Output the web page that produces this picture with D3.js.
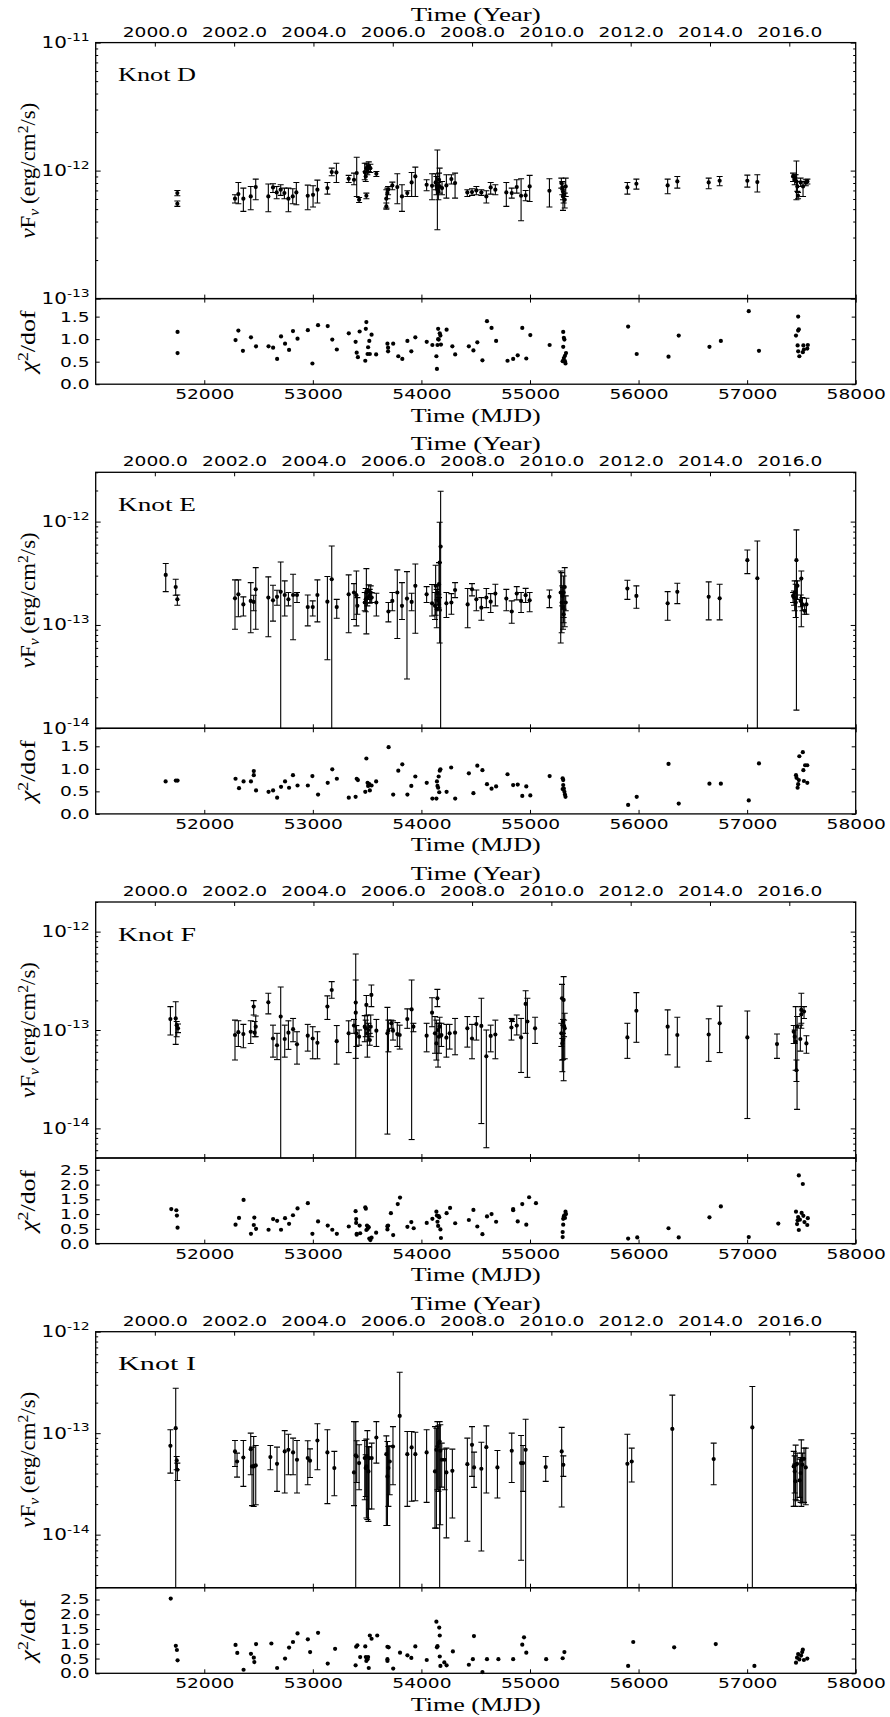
<!DOCTYPE html>
<html><head><meta charset="utf-8">
<script src="https://cdn.jsdelivr.net/npm/d3@7"></script>
<style>body{margin:0;background:#fff}svg{display:block}</style>
</head><body>
<svg id="c" width="890" height="1717"></svg>
<script>
// ---------------- DATA ----------------
const mjdDomain = [51000, 58000];
const mjdTicks = [52000, 53000, 54000, 55000, 56000, 57000, 58000];
const yearTicks = [2000, 2002, 2004, 2006, 2008, 2010, 2012, 2014, 2016];
const knotNames = ["Knot D", "Knot E", "Knot F", "Knot I"];

// Knot D (flux in units of 1e-13 erg/cm2/s)
const D_unit = 1e-13;
const D_yDomain = [1e-13, 1e-11];
const D_mjd = [51752,51752,52283,52314,52360,52428,52474,52590,52633,52667,52704,52738,52775,52815,52848,52953,53002,53042,53134,53174,53217,53330,53379,53404,53426,53478,53493,53502,53515,53530,53493,53487,53585,53677,53687,53693,53677,53732,53778,53821,53870,53910,53944,54048,54098,54131,54138,54147,54156,54162,54168,54190,54230,54276,54310,54423,54466,54506,54552,54598,54638,54681,54782,54832,54878,54918,54960,54997,55179,55289,55298,55304,55310,55320,55329,55304,55897,55980,56268,56357,56646,56747,57002,57094,57423,57438,57454,57463,57469,57447,57493,57515,57540,57555];
const D_flux = [6.67,5.51,6.03,6.55,6.03,6.28,7.43,6.28,7.39,6.75,7.09,6.67,6.03,6.28,6.75,6.36,6.47,7.09,7.30,9.73,9.67,8.63,8.48,9.56,5.92,9.73,10.45,10.15,10.8,10.45,6.36,9.0,9.45,6.03,6.67,7.09,5.25,7.66,7.43,6.28,6.67,8.08,9.0,7.75,7.61,8.08,7.61,7.09,6.88,8.48,7.52,7.30,7.66,8.58,7.99,6.75,6.80,7.0,6.75,6.28,7.39,7.09,6.75,6.67,7.43,6.36,6.40,7.52,6.96,7.99,7.30,6.88,6.47,5.92,7.52,6.28,7.39,7.89,7.66,8.23,8.08,8.33,8.33,8.13,9.0,8.48,8.23,7.52,6.36,8.74,8.08,7.52,8.08,8.23];
const D_lo = [6.36,5.25,5.58,5.51,4.80,4.95,5.92,4.77,6.75,6.03,6.40,6.03,4.77,5.51,5.41,4.95,5.19,5.58,6.55,9.11,8.08,8.08,7.75,6.28,5.64,8.48,9.56,9.28,9.85,9.67,6.03,8.23,9.0,5.10,6.03,6.47,5.0,7.09,5.51,4.80,6.28,6.28,6.28,6.96,5.92,7.09,6.47,3.45,5.92,7.52,6.67,6.47,6.10,7.85,6.10,6.28,6.40,6.47,6.40,5.58,6.55,6.47,5.25,6.10,6.67,4.06,5.81,5.74,5.19,7.30,6.47,5.92,5.58,5.10,6.28,4.89,6.55,7.17,6.59,7.30,7.21,7.61,7.43,6.80,8.23,7.75,5.92,6.88,6.03,8.23,7.52,6.28,7.61,7.85];
const D_hi = [7.0,5.78,6.47,8.08,7.30,7.52,8.58,7.85,7.89,7.52,7.75,7.30,7.30,7.21,8.08,7.70,7.61,8.43,8.08,10.45,11.4,9.17,9.56,12.7,6.17,11.4,11.4,11.1,11.7,11.2,6.67,9.85,9.85,7.09,7.30,7.52,5.58,8.13,9.45,7.75,6.96,9.67,10.65,8.48,9.45,9.45,9.0,14.5,8.08,9.56,10.45,8.23,9.28,9.28,9.56,7.09,7.21,7.52,7.09,6.96,8.08,7.75,8.08,7.30,8.48,8.63,7.0,9.17,8.63,8.74,8.23,7.99,7.52,6.67,8.74,7.09,8.08,8.58,8.58,9.0,8.74,9.0,9.22,9.28,9.56,9.28,11.9,8.23,6.75,9.28,8.74,8.23,8.48,8.58];
const D_chiMax = 1.9;
const D_chiTicks = [0, 0.5, 1.0, 1.5];
const D_chiMjd = [51754,51754,52288,52314,52356,52430,52477,52592,52634,52671,52707,52744,52781,52817,52859,52954,52996,53048,53137,53179,53221,53331,53394,53404,53415,53431,53483,53488,53493,53504,53509,53520,53525,53541,53583,53687,53693,53693,53740,53787,53824,53871,53907,53944,54049,54101,54138,54143,54148,54154,54154,54159,54169,54175,54180,54232,54285,54311,54437,54479,54515,54562,54604,54646,54688,54793,54845,54887,54929,54966,55003,55181,55301,55306,55312,55317,55306,55312,55322,55332,55327,55322,55904,55983,56276,56370,56653,56758,57015,57109,57450,57465,57470,57476,57470,57481,57470,57513,57518,57523,57554,57559];
const D_chi = [1.16,0.69,0.98,1.19,0.74,1.04,0.84,0.84,0.81,0.56,1.06,0.9,0.76,1.18,1.01,1.2,0.46,1.31,1.29,0.99,0.77,1.13,0.94,0.70,0.60,1.17,0.52,1.23,1.38,0.67,0.82,0.96,0.67,1.1,0.66,0.9,0.81,0.73,0.9,0.62,0.56,0.96,0.73,1.04,0.94,0.87,0.62,0.34,0.87,1.0,1.23,0.99,1.13,1.08,0.88,1.21,0.84,0.66,0.84,0.75,0.93,0.53,1.4,1.25,0.96,0.52,0.56,0.64,1.25,0.57,1.09,0.87,0.51,1.16,1.03,0.99,0.83,0.58,0.63,0.69,0.46,0.51,1.28,0.67,0.61,1.08,0.83,0.96,1.62,0.74,1.08,0.86,1.19,1.22,1.5,0.62,0.73,0.71,0.86,0.77,0.79,0.87];

// Knot E (units of 1e-13)
const E_unit = 1e-13;
const E_yDomain = [1e-14, 3e-12];
const E_mjd = [51645,51737,51752,52283,52314,52360,52428,52455,52474,52590,52633,52670,52704,52741,52775,52818,52854,52953,52999,53042,53134,53174,53220,53330,53379,53401,53410,53478,53487,53493,53502,53515,53524,53533,53542,53585,53696,53732,53778,53821,53867,53910,53944,54048,54098,54125,54131,54141,54147,54156,54162,54168,54177,54162,54230,54276,54310,54426,54466,54506,54552,54598,54638,54681,54782,54832,54878,54918,54960,54997,55179,55283,55292,55298,55304,55310,55320,55329,55310,55897,55980,56268,56357,56646,56747,57002,57094,57423,57432,57438,57447,57454,57463,57493,57499,57509,57530,57546];
const E_flux = [3.05,2.33,1.77,1.81,1.98,1.58,1.71,1.67,2.21,1.84,1.73,1.87,2.09,1.95,1.77,1.95,1.95,1.49,1.49,1.95,1.68,2.77,1.49,1.98,2.06,1.94,1.53,1.65,1.77,2.06,1.84,2.13,1.91,2.06,1.84,1.65,1.35,1.71,2.06,1.53,1.80,1.67,2.39,1.98,1.62,1.53,2.39,1.42,2.06,1.71,2.48,4.01,5.73,1.58,1.62,1.65,2.18,1.58,2.21,1.77,1.47,1.84,1.68,2.01,1.80,1.35,2.01,1.71,1.94,1.73,1.87,2.06,1.65,1.91,1.47,2.06,2.33,1.65,1.27,2.25,1.91,1.62,2.09,1.87,1.81,4.23,2.83,1.91,1.84,2.06,1.65,4.23,2.39,1.71,2.81,1.58,1.37,1.58];
const E_lo = [2.10,1.94,1.55,0.91,1.20,1.22,0.84,1.37,0.91,0.77,1.09,1.55,0,1.22,1.53,0.72,1.65,0.98,1.22,1.07,0.46,0,1.16,0.84,1.13,0.98,1.27,1.37,1.34,0.82,1.53,1.77,1.62,1.65,1.65,1.22,1.07,1.37,0.74,1.13,0.30,1.37,0.83,1.65,1.22,1.13,1.24,0.94,1.75,1.47,1.42,0.67,0,1.37,1.18,1.27,1.84,0.94,1.91,1.37,1.11,1.47,1.32,1.53,1.37,1.04,1.75,1.32,1.65,1.34,1.47,0.67,0.84,1.53,0.91,1.05,0.96,1.37,1.18,1.77,1.45,1.11,1.61,1.12,1.12,3.14,0,1.65,1.55,1.37,1.18,0.15,1.77,1.50,0.96,1.37,1.27,1.27];
const E_hi = [3.93,2.77,1.95,2.73,2.73,1.87,2.57,1.94,3.59,2.92,2.42,2.17,4.07,2.67,2.06,3.09,2.06,1.95,1.71,2.73,2.94,5.81,1.77,3.05,2.51,3.33,1.84,2.06,2.25,3.51,2.13,2.44,2.21,2.39,2.06,2.03,1.65,2.06,3.41,2.57,3.28,2.03,3.89,2.35,2.46,2.06,3.78,2.21,2.39,1.98,4.01,9.85,19.7,1.84,2.06,2.01,2.57,2.25,2.51,2.18,1.84,2.25,2.01,2.48,2.21,1.71,2.35,2.06,2.26,2.06,2.18,3.33,3.21,2.39,2.30,2.98,3.59,1.91,1.42,2.71,2.39,2.10,2.53,2.61,2.48,5.32,6.5,2.06,2.13,2.67,2.48,8.31,2.67,1.95,3.33,1.84,1.58,1.81];
const E_chiMax = 1.9;
const E_chiTicks = [0, 0.5, 1.0, 1.5];
const E_chiMjd = [51644,51738,51754,52288,52320,52362,52430,52456,52456,52477,52592,52634,52671,52707,52744,52781,52817,52859,52954,52996,53048,53137,53179,53221,53331,53394,53404,53415,53483,53493,53504,53509,53520,53525,53541,53583,53698,53740,53787,53824,53871,53907,53944,54049,54101,54138,54143,54148,54154,54159,54164,54169,54175,54232,54274,54311,54437,54479,54515,54562,54604,54646,54688,54793,54845,54887,54929,54966,55003,55181,55301,55306,55306,55312,55317,55322,55327,55301,55904,55983,56276,56370,56653,56758,57015,57109,57450,57455,57465,57470,57476,57481,57513,57518,57523,57534,57554,57554];
const E_chi = [0.72,0.74,0.74,0.78,0.57,0.72,0.72,0.86,0.95,0.52,0.49,0.52,0.36,0.6,0.72,0.58,0.86,0.63,0.63,0.84,0.43,0.69,0.99,0.78,0.36,0.38,0.78,0.75,0.49,1.23,0.69,0.62,0.66,0.52,0.63,0.72,1.48,0.43,0.96,1.1,0.43,0.62,0.83,0.69,0.34,0.34,0.72,0.62,0.58,0.83,0.48,0.96,0.99,0.49,1.03,0.34,0.9,0.46,1.07,0.97,0.66,0.56,0.61,0.88,0.64,0.65,0.4,0.61,0.41,0.84,0.79,0.75,0.64,0.56,0.49,0.43,0.38,0.55,0.2,0.38,1.11,0.23,0.67,0.67,0.3,1.12,0.86,0.8,0.58,0.66,0.75,1.28,1.37,0.97,0.73,1.08,0.69,1.08];

// Knot F (units of 1e-13)
const F_unit = 1e-13;
const F_yDomain = [5e-15, 2e-12];
const F_mjd = [51688,51737,51746,51758,52283,52314,52360,52428,52455,52464,52474,52590,52633,52670,52704,52741,52775,52818,52854,52953,52999,53042,53134,53174,53220,53330,53379,53395,53395,53401,53426,53478,53493,53487,53502,53512,53524,53533,53539,53585,53687,53696,53723,53738,53778,53800,53870,53910,53926,54048,54098,54125,54138,54147,54153,54162,54168,54184,54230,54260,54310,54423,54466,54506,54552,54598,54638,54681,54829,54835,54878,54918,54960,54976,55047,55295,55310,55304,55314,55320,55298,55289,55304,55897,55980,56268,56357,56646,56747,57002,57275,57429,57438,57447,57454,57460,57490,57499,57499,57524,57546];
const F_flux = [1.29,1.31,1.12,1.04,0.89,0.95,0.91,0.96,1.73,0.94,1.08,1.91,0.82,0.70,1.37,0.81,0.94,1.02,0.715,0.875,0.82,0.74,1.73,2.55,0.77,0.925,1.11,1.50,1.90,0.925,0.855,1.08,1.80,1.04,0.925,1.0,0.79,1.08,2.27,0.985,0.925,0.985,1.17,0.985,0.91,0.89,1.29,1.62,1.08,0.875,1.50,0.925,0.73,2.10,1.0,0.855,1.08,0.89,0.835,0.925,0.94,1.04,0.82,1.15,1.10,0.54,0.87,0.90,1.06,1.26,1.11,0.84,1.84,1.22,1.04,2.10,2.02,1.22,1.08,1.04,0.73,0.925,0.79,0.84,1.57,1.08,0.89,0.90,1.17,0.84,0.72,0.96,0.855,0.76,0.39,1.08,0.81,1.60,1.44,1.54,0.73];
const F_lo = [0.89,0.715,0.855,0.94,0.495,0.68,0.66,0.73,1.42,0.855,0.855,1.46,0.53,0.50,0,0.53,0.635,0.76,0.45,0.61,0.51,0.51,1.28,2.10,0.45,0.59,0.925,0.515,0,0.68,0.70,0.76,1.40,0.855,0.53,0.79,0.70,0.855,1.73,0.68,0.0875,0.60,1.04,0.79,0.68,0.64,1.04,0.077,0.96,0.60,1.08,0.58,0.495,1.73,0.42,0.58,0.855,0.68,0.53,0.64,0.56,0.67,0.51,0.79,0.112,0.0636,0.60,0.51,0.79,1.22,0.89,0.37,0.925,0.33,0.73,0.495,0.305,1.12,0.855,0.51,0.377,0.68,0.50,0.515,0.75,0.56,0.42,0.48,0.59,0.126,0.515,0.73,0.73,0.39,0.30,0.156,0.61,1.04,1.17,1.31,0.58];
const F_hi = [1.73,1.94,1.22,1.15,1.26,1.24,1.14,1.24,1.99,1.22,1.39,2.36,1.12,0.925,2.74,1.12,1.24,1.31,0.96,1.14,1.08,0.96,2.22,3.10,1.11,1.24,1.28,3.22,5.93,1.11,1.0,1.40,2.24,1.26,1.42,1.17,0.925,1.42,2.87,1.28,1.70,1.26,1.26,1.24,1.19,1.12,1.64,3.22,1.17,1.17,2.13,1.37,1.26,2.59,1.17,1.17,1.35,1.17,1.14,1.14,1.31,1.37,1.14,1.37,2.10,1.0,1.12,1.26,1.31,1.29,1.42,1.31,2.51,2.10,1.35,2.91,3.49,1.28,1.26,1.48,0.82,1.17,0.925,1.17,2.40,1.60,1.35,1.30,1.75,1.56,0.91,1.11,1.0,1.73,0.495,1.37,1.12,2.36,1.73,1.73,0.875];
const F_chiMax = 2.9;
const F_chiTicks = [0, 0.5, 1.0, 1.5, 2.0, 2.5];
const F_chiMjd = [51696,51743,51748,51754,52288,52320,52362,52430,52456,52461,52477,52592,52634,52671,52707,52744,52781,52817,52859,52954,52996,53048,53137,53179,53221,53331,53394,53399,53399,53404,53404,53431,53436,53483,53488,53493,53499,53504,53509,53515,53520,53530,53541,53583,53687,53687,53693,53719,53740,53782,53803,53871,53907,53929,54049,54101,54138,54143,54148,54154,54159,54164,54175,54180,54232,54264,54311,54437,54479,54515,54562,54604,54646,54688,54845,54845,54887,54929,54966,54992,55055,55301,55301,55306,55306,55312,55317,55322,55327,55332,55904,55988,56276,56370,56653,56758,57015,57287,57450,57460,57465,57470,57476,57476,57486,57502,57513,57518,57528,57554,57559];
const F_chi = [1.17,1.13,0.95,0.54,0.64,0.87,1.48,0.33,0.63,0.88,0.5,0.47,0.83,0.77,0.47,0.86,0.67,0.96,1.19,1.37,0.33,0.75,0.61,0.47,0.33,0.58,1.1,0.83,0.7,0.33,0.3,0.61,0.35,1.23,1.18,0.46,0.61,0.5,0.57,0.55,0.17,0.12,0.2,0.37,0.59,0.48,0.61,1.03,0.29,1.34,1.56,0.57,0.73,0.52,0.7,0.84,1.08,0.95,0.74,0.6,0.93,0.89,0.48,0.19,1.03,1.21,0.69,0.8,1.14,0.58,0.32,0.92,1.0,0.74,1.13,1.17,0.75,1.34,0.64,1.57,1.37,0.22,0.39,0.64,0.84,0.92,0.96,0.87,1.08,1.0,0.17,0.21,0.52,0.21,0.89,1.26,0.22,0.68,1.08,0.66,0.79,0.9,2.31,0.46,0.81,1.04,2.02,0.94,0.73,0.63,0.86];

// Knot I (units of 1e-14)
const I_unit = 1e-14;
const I_yDomain = [3e-15, 1e-12];
const I_mjd = [51688,51737,51746,51752,52283,52302,52360,52428,52440,52455,52474,52609,52670,52741,52775,52818,52854,52953,52974,53042,53134,53198,53379,53395,53404,53426,53478,53487,53493,53502,53512,53518,53542,53585,53677,53687,53696,53708,53738,53800,53870,53910,53944,54048,54125,54138,54147,54156,54168,54174,54187,54214,54230,54285,54423,54466,54485,54552,54598,54700,54832,54918,54936,54960,55145,55292,55307,55897,55937,56311,56692,57048,57429,57438,57444,57447,57460,57484,57493,57499,57509,57524,57540];
const I_flux = [7.50,11.2,5.39,4.36,6.61,5.26,5.76,6.96,4.70,4.70,4.81,5.81,4.99,6.61,6.86,6.46,5.47,5.68,5.36,8.47,6.46,4.53,4.10,6.03,5.89,5.07,5.68,4.53,4.70,5.89,4.20,5.68,5.68,9.06,6.21,3.75,4.53,5.26,7.39,14.8,6.21,7.23,6.21,6.46,4.20,6.86,7.39,7.97,8.28,6.71,5.47,5.47,4.10,4.26,4.95,7.68,4.60,4.46,7.28,4.60,6.71,5.07,5.07,6.86,4.63,6.61,4.88,4.99,5.26,11.0,5.55,11.4,4.70,4.20,3.35,4.88,4.99,3.42,4.04,5.47,4.88,5.59,4.60];
const I_lo = [4.04,0,4.36,3.42,4.70,3.69,2.99,3.89,1.93,1.90,1.97,4.36,2.67,2.57,3.89,3.89,2.57,3.10,3.66,4.36,2.02,2.42,1.93,0,3.27,2.77,2.21,2.38,1.46,1.41,1.35,1.79,1.79,5.07,1.23,1.23,1.90,2.47,3.10,0,1.90,2.13,2.16,2.08,1.16,1.16,2.77,2.67,0,1.25,2.94,2.77,0.93,1.46,0.86,3.75,2.92,0.69,2.57,2.30,3.27,0.56,2.67,0,3.35,1.87,3.75,0,3.30,0,3.10,0,1.90,2.57,1.90,2.21,2.16,2.33,2.08,1.90,2.05,2.08,1.97];
const I_hi = [10.8,27.7,5.89,5.07,8.47,6.36,8.47,10.0,7.28,9.27,7.57,7.57,7.28,10.6,9.77,8.93,8.47,8.41,7.01,12.4,10.8,6.61,13.0,13.0,8.41,7.68,8.47,6.12,8.73,10.6,7.39,7.28,7.97,13.0,9.41,8.28,7.39,7.50,11.6,39.8,10.4,10.4,10.2,10.8,11.6,11.2,13.0,11.8,13.0,12.1,7.97,6.96,7.12,6.96,8.93,11.6,6.51,8.15,11.8,6.76,10.0,9.48,7.57,13.7,5.89,11.4,5.98,9.77,7.12,23.7,7.97,28.8,6.61,5.98,4.95,7.62,6.36,5.55,5.76,8.59,6.36,7.12,7.12];
const I_chiMax = 2.9;
const I_chiTicks = [0, 0.5, 1.0, 1.5, 2.0, 2.5];
const I_chiMjd = [51691,51738,51748,51754,52288,52304,52362,52430,52456,52461,52477,52618,52671,52744,52781,52817,52859,52954,52975,53048,53137,53205,53394,53399,53410,53436,53483,53488,53493,53504,53509,53515,53525,53541,53593,53687,53698,53687,53687,53740,53803,53871,53907,53944,54049,54138,54148,54143,54164,54169,54169,54175,54211,54232,54290,54437,54474,54484,54562,54604,54709,54845,54929,54945,54966,55149,55301,55317,55904,55951,56328,56711,57067,57450,57460,57470,57481,57497,57507,57513,57523,57554];
const I_chi = [2.53,0.93,0.79,0.44,0.96,0.69,0.12,0.66,0.53,0.38,0.99,1.01,0.18,0.5,0.87,1.06,1.35,1.15,0.72,1.37,0.33,0.83,0.27,0.9,0.95,0.55,0.91,0.55,0.42,0.48,0.55,0.18,1.28,1.17,1.28,0.9,0.88,0.42,0.48,0.16,0.7,0.61,0.52,0.91,0.45,1.75,0.92,0.88,1.55,1.28,0.57,0.25,0.37,0.27,0.74,0.29,0.48,1.26,0.04,0.48,0.48,0.48,0.97,1.22,0.7,0.48,0.51,0.72,0.25,1.06,0.88,0.99,0.25,0.36,0.53,0.65,0.47,0.6,0.72,0.8,0.45,0.5];

// ---------------- LAYOUT ----------------
const SANS = "'DejaVu Sans', sans-serif";
const SERIF = "'Liberation Serif', 'Times New Roman', serif";
const X0 = 95.7, X1 = 855.7;
const TOP0 = 42.6, PERIOD = 429.7, MAIN_H = 256, CHI_H = 85.6;
const SX = 1.33; // horizontal stretch of tick labels

const svg = d3.select('#c');
svg.append('rect').attr('width', 890).attr('height', 1717).attr('fill', '#fff');

const x = d3.scaleLinear().domain(mjdDomain).range([X0, X1]);
const mjdToYear = m => 2000 + (m - 51544.5) / 365.25;
const xYear = d3.scaleLinear().domain(mjdDomain.map(mjdToYear)).range([X0, X1]);

const knots = [
  {name: knotNames[0], mjd: D_mjd, flux: D_flux, lo: D_lo, hi: D_hi, unit: D_unit, yDomain: D_yDomain, chiMjd: D_chiMjd, chi: D_chi, chiMax: D_chiMax, chiTicks: D_chiTicks},
  {name: knotNames[1], mjd: E_mjd, flux: E_flux, lo: E_lo, hi: E_hi, unit: E_unit, yDomain: E_yDomain, chiMjd: E_chiMjd, chi: E_chi, chiMax: E_chiMax, chiTicks: E_chiTicks},
  {name: knotNames[2], mjd: F_mjd, flux: F_flux, lo: F_lo, hi: F_hi, unit: F_unit, yDomain: F_yDomain, chiMjd: F_chiMjd, chi: F_chi, chiMax: F_chiMax, chiTicks: F_chiTicks},
  {name: knotNames[3], mjd: I_mjd, flux: I_flux, lo: I_lo, hi: I_hi, unit: I_unit, yDomain: I_yDomain, chiMjd: I_chiMjd, chi: I_chi, chiMax: I_chiMax, chiTicks: I_chiTicks}
];

function styleAxis(g) {
  g.select('.domain').remove();
  g.selectAll('.tick line').attr('stroke', '#000').attr('stroke-width', 1);
  g.selectAll('.tick text').attr('fill', '#000').attr('font-family', SANS).attr('font-size', 14)
    .attr('transform', `scale(${SX},1)`);
}

// horizontal serif label fitted to a width
function fitLabel(g, cx, y, width, anchor, build) {
  const t = g.append('text').attr('font-family', SERIF).attr('font-size', 19)
    .attr('text-anchor', anchor).attr('fill', '#000');
  build(t);
  const w = t.node().getComputedTextLength();
  t.attr('transform', `translate(${cx},${y}) scale(${width / w},1)`);
  return t;
}
// rotated serif label (baseline at bx, centered on cy), fitted to a length
function rotLabel(g, bx, cy, len, cross, build) {
  const t = g.append('text').attr('font-family', SERIF).attr('font-size', 19)
    .attr('text-anchor', 'middle').attr('fill', '#000');
  build(t);
  const w = t.node().getComputedTextLength();
  t.attr('transform', `translate(${bx},${cy}) rotate(-90) scale(${len / w},${cross})`);
  return t;
}

function drawPanel(k, top, idx) {
  const g = svg.append('g');
  const mainBot = top + MAIN_H, chiTop = mainBot, chiBot = chiTop + CHI_H;
  const y = d3.scaleLog().domain(k.yDomain).range([mainBot, top]);
  const yc = d3.scaleLinear().domain([0, k.chiMax]).range([chiBot, chiTop]);

  const cid = 'clip' + idx;
  svg.append('clipPath').attr('id', cid).append('rect')
    .attr('x', X0).attr('y', top).attr('width', X1 - X0).attr('height', MAIN_H);

  const pts = k.mjd.map((m, j) => ({m, f: k.flux[j] * k.unit, lo: k.lo[j] * k.unit, hi: k.hi[j] * k.unit}));
  const eg = g.append('g').attr('clip-path', `url(#${cid})`);
  const CAP = 3;
  eg.selectAll('line.eb').data(pts).join('line').attr('class', 'eb')
    .attr('x1', d => x(d.m)).attr('x2', d => x(d.m))
    .attr('y1', d => y(d.hi)).attr('y2', d => d.lo > 0 ? y(d.lo) : mainBot + 10)
    .attr('stroke', '#000').attr('stroke-width', 1.1);
  eg.selectAll('line.cap-hi').data(pts).join('line').attr('class', 'cap-hi')
    .attr('x1', d => x(d.m) - CAP).attr('x2', d => x(d.m) + CAP)
    .attr('y1', d => y(d.hi)).attr('y2', d => y(d.hi))
    .attr('stroke', '#000').attr('stroke-width', 1.1);
  eg.selectAll('line.cap-lo').data(pts.filter(d => d.lo > 0)).join('line').attr('class', 'cap-lo')
    .attr('x1', d => x(d.m) - CAP).attr('x2', d => x(d.m) + CAP)
    .attr('y1', d => y(d.lo)).attr('y2', d => y(d.lo))
    .attr('stroke', '#000').attr('stroke-width', 1.1);
  eg.selectAll('circle').data(pts).join('circle')
    .attr('cx', d => x(d.m)).attr('cy', d => y(d.f)).attr('r', 2.1).attr('fill', '#000');

  // log ticks
  const e0 = Math.floor(Math.log10(k.yDomain[0])), e1 = Math.ceil(Math.log10(k.yDomain[1]));
  const major = [], minor = [];
  for (let e = e0; e <= e1; e++) {
    for (let m = 1; m <= 9; m++) {
      const v = m * Math.pow(10, e);
      if (v < k.yDomain[0] * 0.999 || v > k.yDomain[1] * 1.001) continue;
      (m === 1 ? major : minor).push(v);
    }
  }
  g.append('g').attr('transform', `translate(${X0},0)`)
    .call(d3.axisLeft(y).tickValues(major).tickSizeInner(-5).tickSizeOuter(0).tickFormat('')).call(styleAxis);
  g.append('g').attr('transform', `translate(${X0},0)`)
    .call(d3.axisLeft(y).tickValues(minor).tickSizeInner(-2.5).tickSizeOuter(0).tickFormat('')).call(styleAxis);
  g.append('g').attr('transform', `translate(${X1},0)`)
    .call(d3.axisRight(y).tickValues(major).tickSizeInner(-5).tickSizeOuter(0).tickFormat('')).call(styleAxis);
  g.append('g').attr('transform', `translate(${X1},0)`)
    .call(d3.axisRight(y).tickValues(minor).tickSizeInner(-2.5).tickSizeOuter(0).tickFormat('')).call(styleAxis);

  // decade labels 10^n
  major.forEach(v => {
    const e = Math.round(Math.log10(v));
    const t = g.append('text').attr('font-family', SANS).attr('font-size', 15).attr('text-anchor', 'end')
      .attr('fill', '#000').attr('transform', `translate(${X0 - 6},${y(v) + 5.5}) scale(${SX},1)`);
    t.append('tspan').text('10');
    t.append('tspan').attr('font-size', 10.5).attr('dy', -7.5).text(String(e));
  });

  // top year axis
  g.append('g').attr('transform', `translate(0,${top})`)
    .call(d3.axisTop(xYear).tickValues(yearTicks).tickSizeInner(-4).tickSizeOuter(0).tickPadding(6)
      .tickFormat(d3.format('.1f'))).call(styleAxis);
  // bottom of main panel (MJD, no labels)
  g.append('g').attr('transform', `translate(0,${mainBot})`)
    .call(d3.axisBottom(x).tickValues(mjdTicks).tickSizeInner(-4).tickSizeOuter(0).tickFormat('')).call(styleAxis);

  // chi panel
  g.selectAll('circle.chi').data(k.chiMjd.map((m, j) => ({m, c: k.chi[j]}))).join('circle').attr('class', 'chi')
    .attr('cx', d => x(d.m)).attr('cy', d => yc(d.c)).attr('r', 2.1).attr('fill', '#000');
  g.append('g').attr('transform', `translate(${X0},0)`)
    .call(d3.axisLeft(yc).tickValues(k.chiTicks).tickSizeInner(-4).tickSizeOuter(0).tickPadding(4.6)
      .tickFormat(d3.format('.1f'))).call(styleAxis);
  g.append('g').attr('transform', `translate(${X1},0)`)
    .call(d3.axisRight(yc).tickValues(k.chiTicks).tickSizeInner(-4).tickSizeOuter(0).tickFormat('')).call(styleAxis);
  g.append('g').attr('transform', `translate(0,${chiTop})`)
    .call(d3.axisTop(x).tickValues(mjdTicks).tickSizeInner(-4).tickSizeOuter(0).tickFormat('')).call(styleAxis);
  g.append('g').attr('transform', `translate(0,${chiBot})`)
    .call(d3.axisBottom(x).tickValues(mjdTicks).tickSizeInner(-4).tickSizeOuter(0).tickPadding(5)
      .tickFormat(d3.format('d'))).call(styleAxis);

  // spines
  g.append('rect').attr('x', X0).attr('y', top).attr('width', X1 - X0).attr('height', MAIN_H)
    .attr('fill', 'none').attr('stroke', '#000').attr('stroke-width', 1.3);
  g.append('rect').attr('x', X0).attr('y', chiTop).attr('width', X1 - X0).attr('height', CHI_H)
    .attr('fill', 'none').attr('stroke', '#000').attr('stroke-width', 1.3);

  // texts
  const cx = (X0 + X1) / 2;
  fitLabel(g, cx, top - 22, 130, 'middle', t => t.text('Time (Year)'));
  fitLabel(g, cx, chiBot + 37.5, 130, 'middle', t => t.text('Time (MJD)'));
  fitLabel(g, 118, top + 38.5, 78, 'start', t => t.text(k.name));

  rotLabel(g, 35, top + MAIN_H / 2, 136, 1.05, t => {
    t.append('tspan').attr('font-style', 'italic').text('ν');
    t.append('tspan').text('F');
    t.append('tspan').attr('font-style', 'italic').attr('font-size', 13).attr('dy', 4).text('ν');
    t.append('tspan').attr('dy', -4).text('\u2009(erg/cm');
    t.append('tspan').attr('font-size', 13).attr('dy', -7).text('2');
    t.append('tspan').attr('dy', 7).text('/s)');
  });
  rotLabel(g, 35, chiTop + CHI_H / 2, 62, 1.05, t => {
    t.append('tspan').attr('font-style', 'italic').text('χ');
    t.append('tspan').attr('font-size', 13).attr('dy', -7).text('2');
    t.append('tspan').attr('dy', 7).text('/dof');
  });
}

knots.forEach((k, i) => drawPanel(k, TOP0 + i * PERIOD, i));
</script>
</body></html>
